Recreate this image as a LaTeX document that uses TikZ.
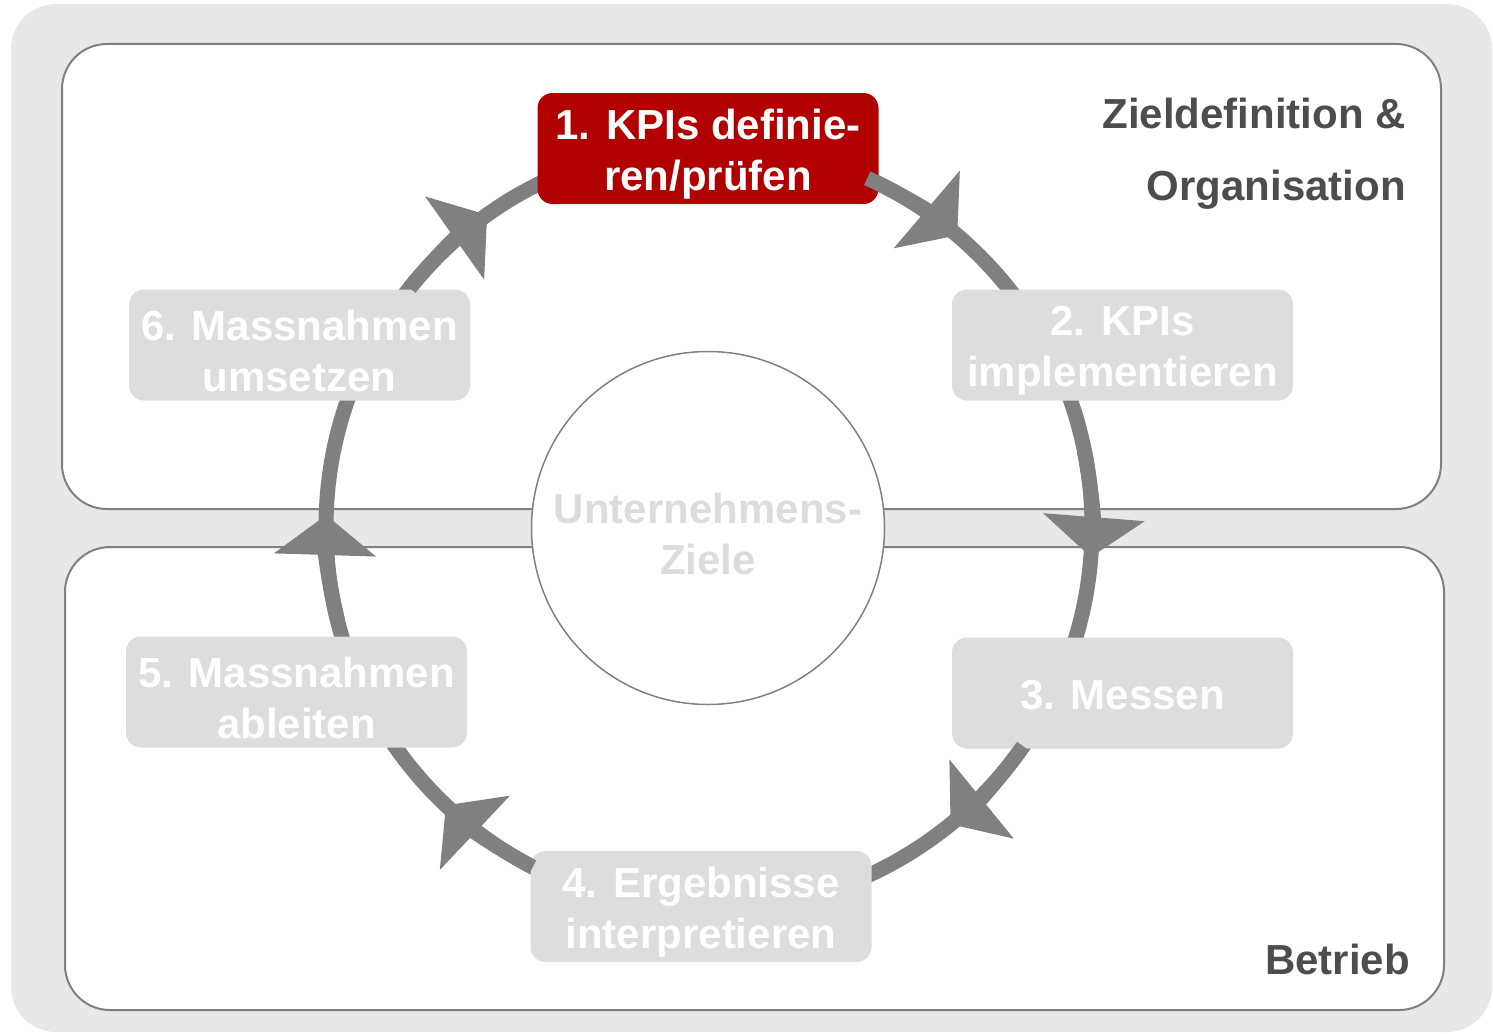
\documentclass[tikz,border=0pt]{standalone}
\usepackage{fontspec}
\setmainfont{Liberation Sans}
\usetikzlibrary{arrows.meta}
\definecolor{bggray}{HTML}{E8E8E8}
\definecolor{ringgray}{HTML}{808080}
\definecolor{boxgray}{HTML}{DDDDDD}
\definecolor{kpired}{HTML}{B20000}
\definecolor{labelgray}{HTML}{4D4D4D}
\definecolor{centertext}{HTML}{DCDCDC}
\begin{document}
\begin{tikzpicture}[x=1pt,y=-1pt,
  panel/.style={draw=ringgray, line width=2pt, fill=white, rounded corners=45pt},
  ringline/.style={draw=ringgray, line width=15pt},
  ringarrow/.style={draw=ringgray, line width=15pt, -{Triangle[width=100pt,length=40pt]}},
  bigfont/.style={font=\fontsize{42}{51}\selectfont\bfseries},
  stepbox/.style={fill=boxgray, rounded corners=15pt,
    minimum width=341pt, minimum height=111pt, inner sep=0pt},
  activebox/.style={stepbox, fill=kpired},
  steptext/.style={bigfont, text=white, inner sep=0pt, align=center},
  areatext/.style={bigfont, text=labelgray, anchor=base east, inner sep=0pt}
]
\useasboundingbox (0,0) rectangle (1493,1033);
% background
\fill[bggray, rounded corners=45pt] (11,4) rectangle (1492,1032);
% panels
\draw[panel] (62,44) rectangle (1441,509);
\draw[panel] (65,547) rectangle (1444,1010);
% ring
\coordinate (c) at (709,527);
\draw[ringline] (c) circle[radius=383];
% center
\node[circle, draw=ringgray, line width=1.5pt, fill=white, minimum size=353pt, inner sep=0pt] (goal) at (708,528) {};
\node[steptext, text=centertext] (goalt) at ([yshift=-6pt]goal.center) {Unternehmens-\\Ziele};
% steps
\node[activebox] (s1) at (708,148.5) {};
\node[stepbox] (s2) at (1122.5,345) {};
\node[stepbox] (s3) at (1122.5,693) {};
\node[stepbox] (s4) at (701,906.5) {};
\node[stepbox] (s5) at (296.5,692) {};
\node[stepbox] (s6) at (299.5,345) {};
\node[steptext] (s1t) at ([yshift=-6pt]s1.center) {1. KPIs definie-\\ren/prüfen};
\node[steptext] (s2t) at ([yshift=-6pt]s2.center) {2. KPIs\\implementieren};
\node[steptext] (s3t) at ([yshift=-2pt]s3.center) {3. Messen};
\node[steptext] (s4t) at ([yshift=-6pt]s4.center) {4. Ergebnisse\\interpretieren};
\node[steptext] (s5t) at ([yshift=-6pt]s5.center) {5. Massnahmen\\ableiten};
\node[steptext] (s6t) at ([yshift=-6pt]s6.center) {6. Massnahmen\\umsetzen};
% arrow heads on the ring
\foreach \a in {304.4, 358.5, 44.9, 127.4, 175.8, 228.6} {
  \draw[ringarrow] (c) ++(\a-10:383) arc[start angle=\a-10, end angle=\a+6, radius=383];
}
% area labels
\node[areatext] (z1) at (1406,128) {Zieldefinition \&};
\node[areatext] (z2) at (1406,200) {Organisation};
\node[areatext] (b1) at (1410,974) {Betrieb};
\end{tikzpicture}
\end{document}
